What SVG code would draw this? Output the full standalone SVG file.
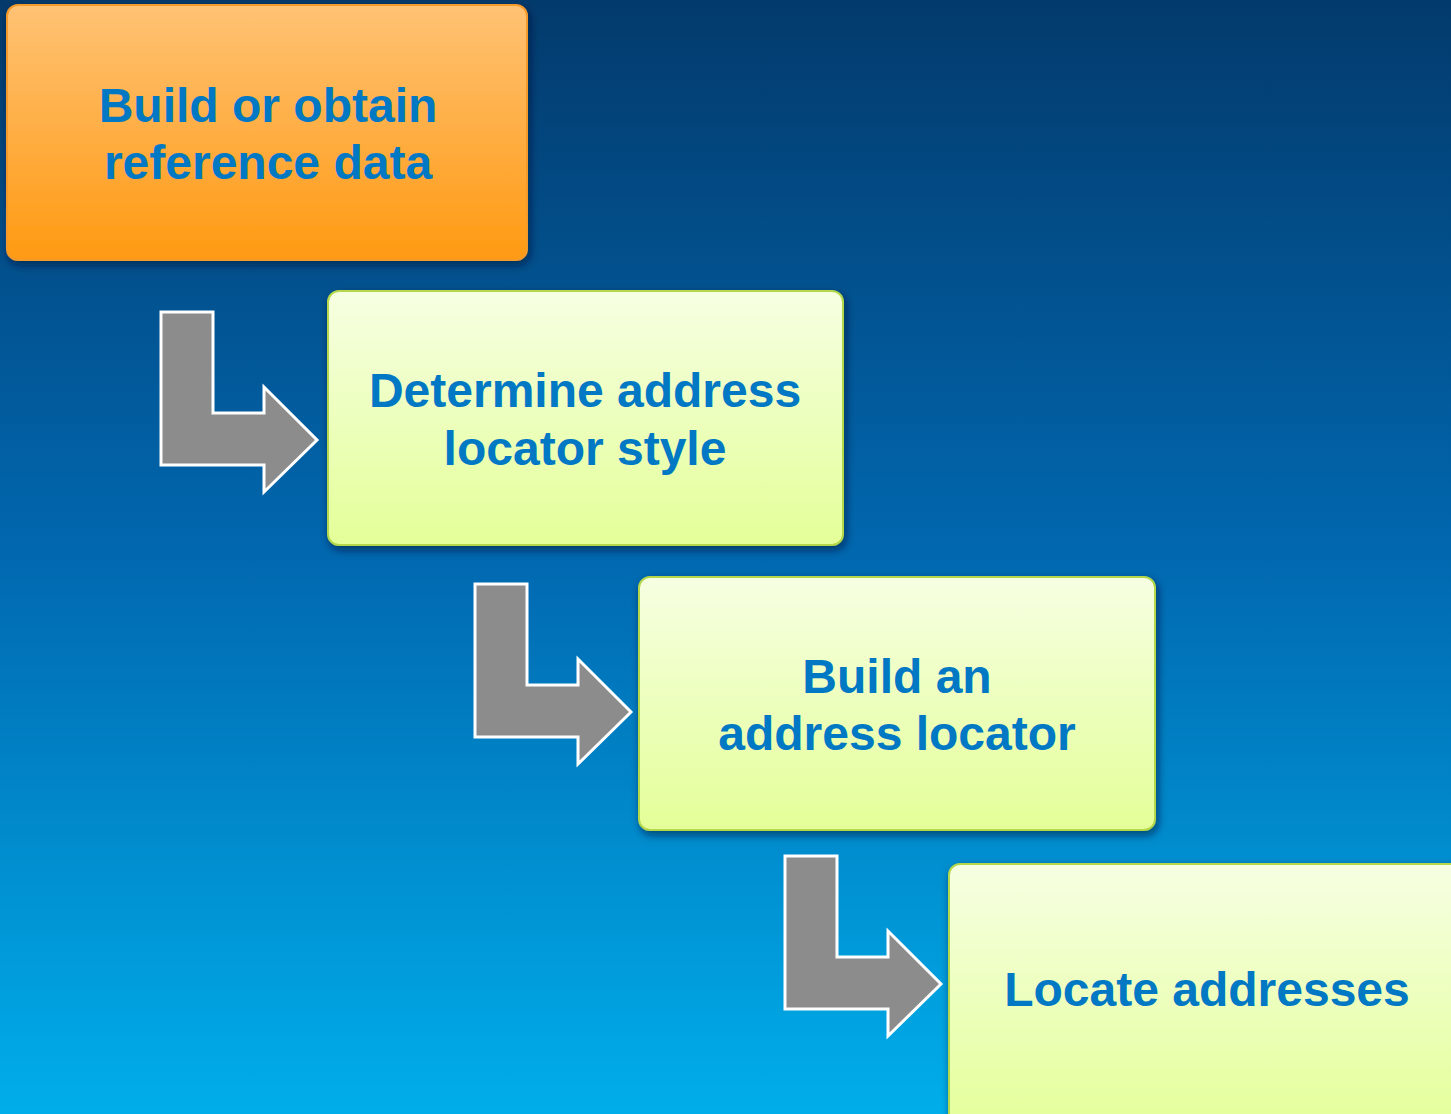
<svg xmlns="http://www.w3.org/2000/svg" width="1451" height="1114" viewBox="0 0 1451 1114">
<defs>
<linearGradient id="bg" x1="0" y1="0" x2="0" y2="1">
<stop offset="0" stop-color="#033a6c"/>
<stop offset="0.5" stop-color="#0168b0"/>
<stop offset="1" stop-color="#00aeea"/>
</linearGradient>
<linearGradient id="orange" x1="0" y1="0" x2="0" y2="1">
<stop offset="0" stop-color="#ffc274"/>
<stop offset="1" stop-color="#ff9a12"/>
</linearGradient>
<linearGradient id="lime" x1="0" y1="0" x2="0" y2="1">
<stop offset="0" stop-color="#f6ffe2"/>
<stop offset="1" stop-color="#e4ff98"/>
</linearGradient>
<filter id="sh" x="-10%" y="-10%" width="120%" height="120%">
<feDropShadow dx="2" dy="4" stdDeviation="4" flood-color="#001830" flood-opacity="0.6"/>
</filter>
<path id="arr" d="M0 0 H52 V101 H103 V75 L156 128 L103 180 V153 H0 Z"/>
</defs>
<style>
.t{font-family:"Liberation Sans",Arial,sans-serif;font-weight:bold;font-size:48px;fill:#0078c4;text-anchor:middle}
.o{fill:url(#orange);stroke:#f39a2a;stroke-width:2;filter:url(#sh)}
.g{fill:url(#lime);stroke:#b4d84a;stroke-width:2;filter:url(#sh)}
.a{fill:#8c8c8c;stroke:#ffffff;stroke-width:3}
</style>
<rect x="0" y="0" width="1451" height="1114" fill="url(#bg)"/>
<g id="connectors">
<use href="#arr" class="a" x="161" y="312"/>
<use href="#arr" class="a" x="475" y="584"/>
<use href="#arr" class="a" x="785" y="856"/>
</g>
<g id="node1">
<rect class="o" x="7" y="5" width="520" height="255" rx="11"/>
<text class="t" x="268" y="122">Build or obtain</text>
<text class="t" x="268" y="179">reference data</text>
</g>
<g id="node2">
<rect class="g" x="328" y="291" width="515" height="254" rx="11"/>
<text class="t" x="585" y="407">Determine address</text>
<text class="t" x="585" y="465">locator style</text>
</g>
<g id="node3">
<rect class="g" x="639" y="577" width="516" height="253" rx="11"/>
<text class="t" x="897" y="693">Build an</text>
<text class="t" x="897" y="750">address locator</text>
</g>
<g id="node4">
<rect class="g" x="949" y="864" width="520" height="270" rx="11"/>
<text class="t" x="1207" y="1006">Locate addresses</text>
</g>
</svg>
